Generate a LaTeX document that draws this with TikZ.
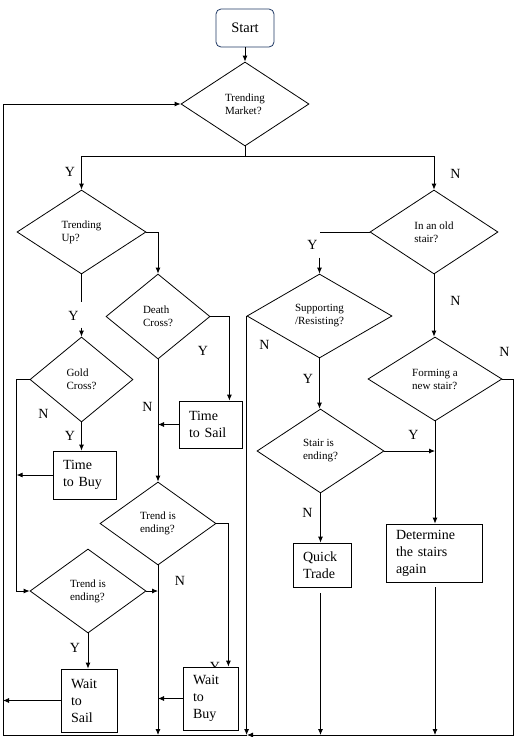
\documentclass[tikz,border=0pt]{standalone}
\usepackage{fontspec}
\setmainfont{Liberation Serif}
\usepackage{tikz}
\usetikzlibrary{arrows.meta,shapes.geometric}
\definecolor{startblue}{RGB}{31,56,100}

\begin{document}
\begin{tikzpicture}[
    x=1pt, y=-1pt,
    line width=0.8pt,
    dia/.style={diamond, draw, inner sep=0pt, align=left, font=\fontsize{11}{13}\selectfont},
    box/.style={rectangle, draw, fill=white, inner xsep=10pt, inner ysep=0pt, align=left, font=\fontsize{14}{17}\selectfont},
    yn/.style={inner sep=0pt, font=\fontsize{14}{16}\selectfont},
    arr/.style={-{Latex[length=6pt,width=5pt]}}
]
\useasboundingbox (0,0) rectangle (531,737);

\node[draw=startblue, rounded corners=5pt, minimum width=58pt, minimum height=38pt,
    font=\fontsize{14.5}{17}\selectfont] (start) at (245,28) {Start};
\node[dia, minimum width=128pt, minimum height=84pt] (market) at (245,104) {Trending\\Market?};
\node[dia, minimum width=129pt, minimum height=84pt] (up) at (81.5,232) {Trending\\Up?};
\node[dia, minimum width=128pt, minimum height=84pt] (oldstair) at (434,232) {In an old\\stair?};
\node[dia, minimum width=104pt, minimum height=85pt] (death) at (158,316.5) {Death\\Cross?};
\node[dia, minimum width=103pt, minimum height=85pt] (gold) at (81.5,379.5) {Gold\\Cross?};
\node[dia, minimum width=116pt, minimum height=83pt] (endA) at (158,523.5) {Trend is\\ending?};
\node[dia, minimum width=116pt, minimum height=84pt] (endB) at (88,591) {Trend is\\ending?};
\node[dia, minimum width=145pt, minimum height=84pt] (support) at (319.5,316) {Supporting\\/Resisting?};
\node[dia, minimum width=127pt, minimum height=84pt] (stairend) at (320.5,451) {Stair is\\ending?};
\node[dia, minimum width=134pt, minimum height=84pt] (forming) at (435,379) {Forming a\\new stair?};

\node[yn] at (215,667) {Y};

\node[box, text width=43pt, minimum height=47pt] (sail) at (210.5,424.5) {Time\\to Sail};
\node[box, text width=43pt, minimum height=48pt] (buy) at (84.5,475) {Time\\to Buy};
\node[box, text width=36pt, minimum height=63pt] (waitsail) at (89,700.5) {Wait\\to\\Sail};
\node[box, text width=35pt, minimum height=63pt] (waitbuy) at (210.5,698.5) {Wait\\to\\Buy};
\node[box, text width=38pt, minimum height=44pt] (quick) at (322,565) {Quick\\Trade};
\node[box, text width=76pt, minimum height=58pt] (determine) at (434,553) {Determine\\the stairs\\again};

\coordinate (split) at (245,156);
\coordinate (loopL) at (3,735);
\coordinate (loopM) at (247,735);
\coordinate (loopR) at (513,735);

\draw[arr] (start.south) -- (market.north);
\draw (market.south) -- (split);
\draw[arr] (split) -| (up.north);
\draw[arr] (split) -| (oldstair.north);

\draw[arr] (up.east) -| (death.north);
\draw (up.south) -- ++(0,28);
\draw[arr] (gold.north) ++(0,-9) -- (gold.north);
\draw[arr] (death.east) -| ([xshift=-13pt]sail.north east);
\draw[arr] (sail.west) -- (sail.west -| death.south);
\draw[arr] (death.south) -- (endA.north);
\draw[arr] (gold.west) -- ++(-13,0) coordinate (nleft) |- (endB.west);
\draw[arr] (gold.south) -- (gold.south |- buy.north);
\draw[arr] (buy.west) -- (buy.west -| nleft);
\draw[arr] (endA.east) -| ([xshift=-10pt]waitbuy.north east);
\draw[arr] (endA.south) -- (endA.south |- loopM);
\draw[arr] (endB.east) -- (endB.east -| endA.south);
\draw[arr] (endB.south) -- (endB.south |- waitsail.north);
\draw[arr] (waitsail.west) -- (waitsail.west -| loopL);
\draw[arr] (waitbuy.west) -- (waitbuy.west -| endA.south);

\draw (oldstair.west) -- (oldstair.west -| support.north);
\draw[arr] (support.north) ++(0,-16) -- (support.north);
\draw[arr] (support.west) -- (support.west |- loopM);
\draw[arr] (support.south) -- (support.south |- stairend.north);
\draw[arr] (stairend.east) -- (stairend.east -| forming.south);
\draw[arr] (stairend.south) -- (stairend.south |- quick.north);
\draw[arr] (stairend.south |- quick.south) ++(0,6) -- (stairend.south |- loopM);
\draw[arr] (oldstair.south) -- (oldstair.south |- forming.north);
\draw[arr] (forming.south) -- (forming.south |- determine.north);
\draw[arr] (forming.south |- determine.south) ++(0,5) -- (forming.south |- loopM);

\draw[arr] (forming.east) -| (loopR) -- (loopM);
\draw[arr] (loopM) -- (loopL) |- (market.west);

\node[yn] at (70,172) {Y};
\node[yn] at (455.5,174) {N};
\node[yn] at (73.5,316) {Y};
\node[yn] at (203,350.5) {Y};
\node[yn] at (147.5,407) {N};
\node[yn] at (43.5,414) {N};
\node[yn] at (70,436) {Y};
\node[yn] at (180,581) {N};
\node[yn] at (75,648) {Y};
\node[yn] at (312.5,245) {Y};
\node[yn] at (264.5,345) {N};
\node[yn] at (455.5,301) {N};
\node[yn] at (504.5,351.5) {N};
\node[yn] at (308,379) {Y};
\node[yn] at (413.5,435) {Y};
\node[yn] at (307.5,513) {N};
\end{tikzpicture}
\end{document}
